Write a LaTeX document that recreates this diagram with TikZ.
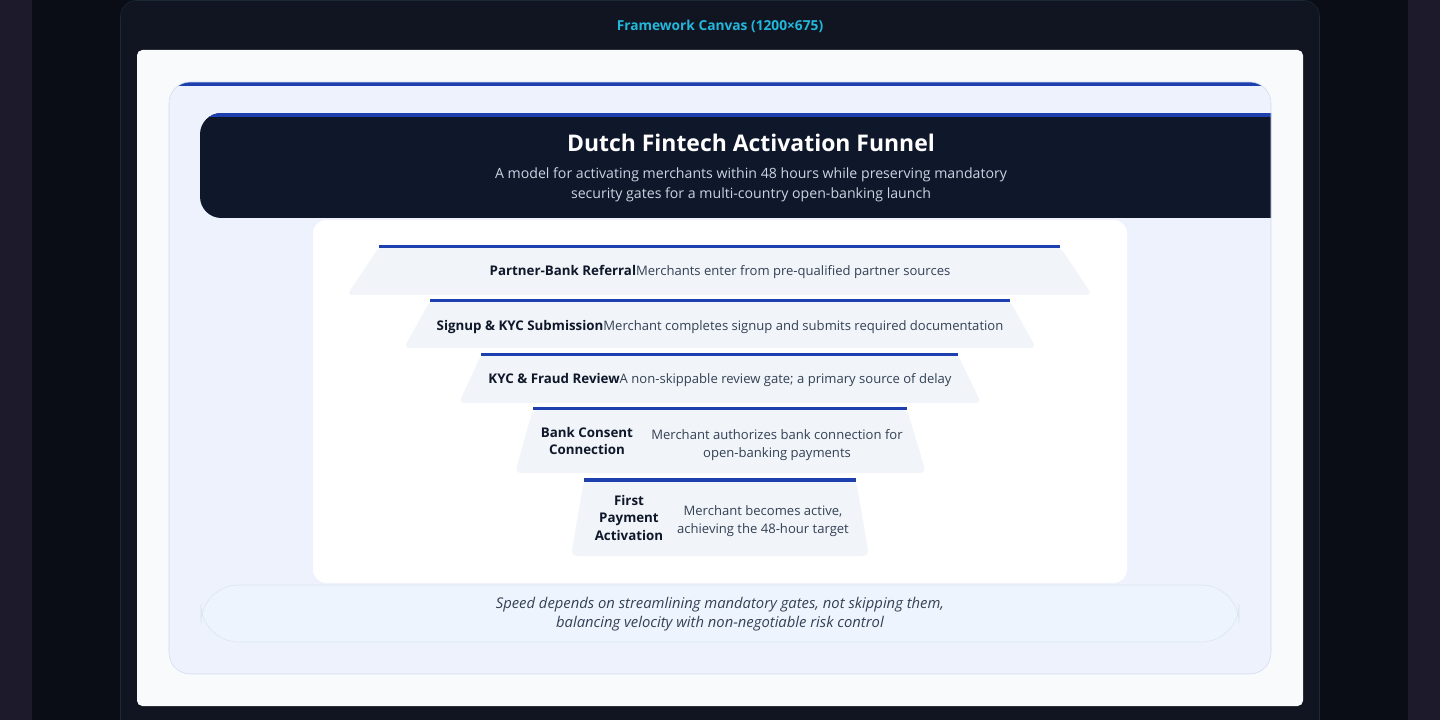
\documentclass[tikz,border=0pt]{standalone}
\usepackage{fontspec}
\setmainfont{Open Sans}
\definecolor{sidebg}{HTML}{1C1A2B}
\definecolor{darkbg}{HTML}{0A0D16}
\definecolor{framebg}{HTML}{111521}
\definecolor{frameline}{HTML}{1A2A35}
\definecolor{canvascyan}{HTML}{22B8DC}
\definecolor{panelbg}{HTML}{F8FAFC}
\definecolor{innerbg}{HTML}{EEF2FD}
\definecolor{innerline}{HTML}{D0DAEE}
\definecolor{headbg}{HTML}{0F172A}
\definecolor{subtext}{HTML}{CBD5E1}
\definecolor{funnelblue}{HTML}{1E40AF}
\definecolor{stagebg}{HTML}{F1F4F8}
\definecolor{labeltext}{HTML}{0F172A}
\definecolor{desctext}{HTML}{334155}
\definecolor{notebg}{HTML}{EEF4FD}
\definecolor{noteline}{HTML}{DAE3F0}
\begin{document}
\begin{tikzpicture}[x=0.75pt,y=-0.75pt,
    stage/.style={fill=stagebg, rounded corners=4},
    topline/.style={draw=funnelblue, line width=2.25pt},
    label/.style={text=labeltext, font=\fontsize{10}{13.2}\selectfont\bfseries, align=center, inner sep=0pt},
    desc/.style={text=desctext, font=\fontsize{9.8}{13}\selectfont, align=center, inner sep=0pt}]
\useasboundingbox (0,0) rectangle (1440,720);
\fill[sidebg] (0,0) rectangle (1440,720);
\fill[darkbg] (32,0) rectangle (1408,720);
\draw[fill=framebg, draw=frameline, rounded corners=12] (120.5,0.5) rectangle (1319.5,740);
\node[text=canvascyan, font=\fontsize{10.3}{12}\selectfont\bfseries] (canvas) at (720,26) {Framework Canvas (1200×675)};

% white canvas
\fill[panelbg, rounded corners=4] (137,50) rectangle (1303,706);

% inner panel with header
\begin{scope}
    \clip[rounded corners=16] (169,82) rectangle (1271,674);
    \fill[innerbg] (169,82) rectangle (1271,674);
    \fill[funnelblue] (169,82) rectangle (1271,86);
    \begin{scope}
        \clip[rounded corners=16] (200,113) rectangle (1300,218);
        \fill[headbg] (200,113) rectangle (1300,218);
        \fill[funnelblue] (200,113) rectangle (1300,117);
    \end{scope}
\end{scope}
\draw[innerline, rounded corners=16] (169,82) rectangle (1271,674);

\node[text=white, font=\fontsize{17.2}{20}\selectfont\bfseries] (title) at (751,143) {Dutch Fintech Activation Funnel};
\node[text=subtext, font=\fontsize{10.6}{15}\selectfont, align=center] (subtitle) at (751,185) {A model for activating merchants within 48 hours while preserving mandatory\\security gates for a multi-country open-banking launch};

% funnel card
\fill[white, rounded corners=10] (313,220) rectangle (1127,583);

\fill[stage] (379,247) -- (1060,247) -- (1092,295) -- (347,295) -- cycle;
\draw[topline] (379,247) -- (1060,247);
\fill[stage] (430,301) -- (1010,301) -- (1036,348) -- (404,348) -- cycle;
\draw[topline] (430,301) -- (1010,301);
\fill[stage] (481,355) -- (958,355) -- (981,403) -- (459,403) -- cycle;
\draw[topline] (481,355) -- (958,355);
\fill[stage] (533,409) -- (907,409) -- (926,473) -- (515,473) -- cycle;
\draw[topline] (533,409) -- (907,409);
\fill[stage] (584,480) -- (856,480) -- (869,556) -- (571,556) -- cycle;
\draw[topline] (584,480) -- (856,480);

\node[desc] (referral) at (720,272) {{\color{labeltext}\fontsize{10}{13}\selectfont\bfseries Partner-Bank Referral}Merchants enter from pre-qualified partner sources};
\node[desc] (signup) at (720,327) {{\color{labeltext}\fontsize{10}{13}\selectfont\bfseries Signup \& KYC Submission}Merchant completes signup and submits required documentation};
\node[desc] (review) at (720,380) {{\color{labeltext}\fontsize{10}{13}\selectfont\bfseries KYC \& Fraud Review}A non-skippable review gate; a primary source of delay};
\node[label] (consent) at (587,441) {Bank Consent\\Connection};
\node[desc] (consentdesc) at (777,445) {Merchant authorizes bank connection for\\open-banking payments};
\node[label] (payment) at (629,518) {First\\Payment\\Activation};
\node[desc] (paymentdesc) at (763,521) {Merchant becomes active,\\achieving the 48-hour target};

% closing note
\draw[fill=notebg, draw=noteline, rounded corners=28.5] (201,585) rectangle (1239,642);
\node[text=desctext, font=\fontsize{11.1}{14.25}\selectfont\itshape, align=center] (note) at (720,614) {Speed depends on streamlining mandatory gates, not skipping them,\\balancing velocity with non-negotiable risk control};
\end{tikzpicture}
\end{document}
